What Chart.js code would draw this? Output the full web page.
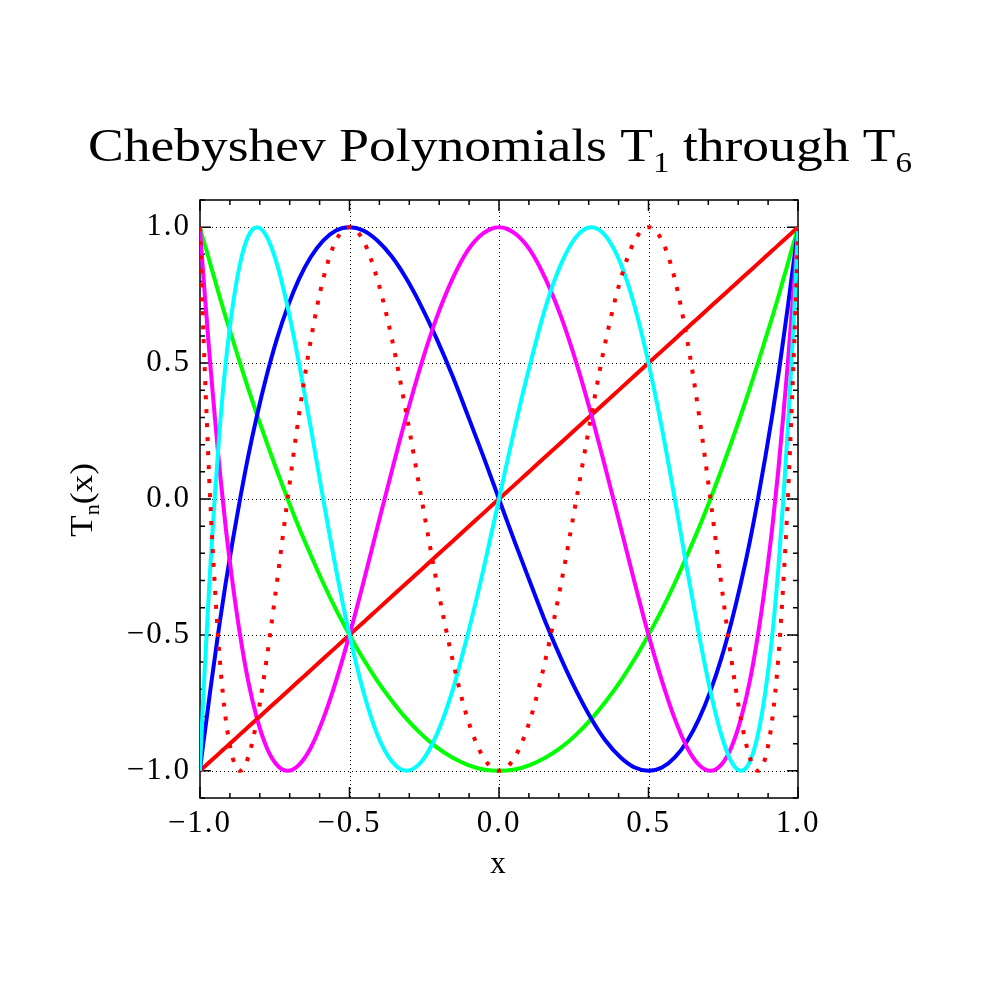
<!DOCTYPE html>
<html>
<head>
<meta charset="utf-8">
<title>Chebyshev Polynomials</title>
<script src="https://cdn.jsdelivr.net/npm/chart.js@4.4.0/dist/chart.umd.min.js"></script>
<style>
  html, body { margin: 0; padding: 0; background: #fff; }
  canvas { display: block; }
</style>
</head>
<body>
<canvas id="cheb" width="1000" height="1000"></canvas>
<script>
(function () {
  "use strict";

  // sample positions on the x axis (shared by every curve)
  const xs = [
    -1, -0.999, -0.995, -0.988, -0.978, -0.966, -0.951, -0.934, -0.914, -0.891,
    -0.866, -0.839, -0.809, -0.777, -0.743, -0.707, -0.669, -0.629, -0.588, -0.545,
    -0.5, -0.454, -0.407, -0.358, -0.309, -0.259, -0.208, -0.156, -0.105, -0.052,
    0,
    0.052, 0.105, 0.156, 0.208, 0.259, 0.309, 0.358, 0.407, 0.454, 0.5,
    0.545, 0.588, 0.629, 0.669, 0.707, 0.743, 0.777, 0.809, 0.839, 0.866,
    0.891, 0.914, 0.934, 0.951, 0.966, 0.978, 0.988, 0.995, 0.999, 1
  ];

  const t1 = [
    -1, -0.999, -0.995, -0.988, -0.978, -0.966, -0.951, -0.934, -0.914, -0.891,
    -0.866, -0.839, -0.809, -0.777, -0.743, -0.707, -0.669, -0.629, -0.588, -0.545,
    -0.5, -0.454, -0.407, -0.358, -0.309, -0.259, -0.208, -0.156, -0.105, -0.052,
    0,
    0.052, 0.105, 0.156, 0.208, 0.259, 0.309, 0.358, 0.407, 0.454, 0.5,
    0.545, 0.588, 0.629, 0.669, 0.707, 0.743, 0.777, 0.809, 0.839, 0.866,
    0.891, 0.914, 0.934, 0.951, 0.966, 0.978, 0.988, 0.995, 0.999, 1
  ];

  const t2 = [
    1, 0.995, 0.978, 0.951, 0.914, 0.866, 0.809, 0.743, 0.669, 0.588,
    0.5, 0.407, 0.309, 0.208, 0.105, 0, -0.105, -0.208, -0.309, -0.407,
    -0.5, -0.588, -0.669, -0.743, -0.809, -0.866, -0.914, -0.951, -0.978, -0.995,
    -1,
    -0.995, -0.978, -0.951, -0.914, -0.866, -0.809, -0.743, -0.669, -0.588, -0.5,
    -0.407, -0.309, -0.208, -0.105, 0, 0.105, 0.208, 0.309, 0.407, 0.5,
    0.588, 0.669, 0.743, 0.809, 0.866, 0.914, 0.951, 0.978, 0.995, 1
  ];

  const t3 = [
    -1, -0.988, -0.951, -0.891, -0.809, -0.707, -0.588, -0.454, -0.309, -0.156,
    0, 0.156, 0.309, 0.454, 0.588, 0.707, 0.809, 0.891, 0.951, 0.988,
    1, 0.988, 0.951, 0.891, 0.809, 0.707, 0.588, 0.454, 0.309, 0.156,
    0,
    -0.156, -0.309, -0.454, -0.588, -0.707, -0.809, -0.891, -0.951, -0.988, -1,
    -0.988, -0.951, -0.891, -0.809, -0.707, -0.588, -0.454, -0.309, -0.156, 0,
    0.156, 0.309, 0.454, 0.588, 0.707, 0.809, 0.891, 0.951, 0.988, 1
  ];

  const t4 = [
    1, 0.978, 0.914, 0.809, 0.669, 0.5, 0.309, 0.105, -0.105, -0.309,
    -0.5, -0.669, -0.809, -0.914, -0.978, -1, -0.978, -0.914, -0.809, -0.669,
    -0.5, -0.309, -0.105, 0.105, 0.309, 0.5, 0.669, 0.809, 0.914, 0.978,
    1,
    0.978, 0.914, 0.809, 0.669, 0.5, 0.309, 0.105, -0.105, -0.309, -0.5,
    -0.669, -0.809, -0.914, -0.978, -1, -0.978, -0.914, -0.809, -0.669, -0.5,
    -0.309, -0.105, 0.105, 0.309, 0.5, 0.669, 0.809, 0.914, 0.978, 1
  ];

  const t5 = [
    -1, -0.966, -0.866, -0.707, -0.5, -0.259, 0, 0.259, 0.5, 0.707,
    0.866, 0.966, 1, 0.966, 0.866, 0.707, 0.5, 0.259, 0, -0.259,
    -0.5, -0.707, -0.866, -0.966, -1, -0.966, -0.866, -0.707, -0.5, -0.259,
    0,
    0.259, 0.5, 0.707, 0.866, 0.966, 1, 0.966, 0.866, 0.707, 0.5,
    0.259, 0, -0.259, -0.5, -0.707, -0.866, -0.966, -1, -0.966, -0.866,
    -0.707, -0.5, -0.259, 0, 0.259, 0.5, 0.707, 0.866, 0.966, 1
  ];

  const t6 = [
    1, 0.951, 0.809, 0.588, 0.309, 0, -0.309, -0.588, -0.809, -0.951,
    -1, -0.951, -0.809, -0.588, -0.309, 0, 0.309, 0.588, 0.809, 0.951,
    1, 0.951, 0.809, 0.588, 0.309, 0, -0.309, -0.588, -0.809, -0.951,
    -1,
    -0.951, -0.809, -0.588, -0.309, 0, 0.309, 0.588, 0.809, 0.951, 1,
    0.951, 0.809, 0.588, 0.309, 0, -0.309, -0.588, -0.809, -0.951, -1,
    -0.951, -0.809, -0.588, -0.309, 0, 0.309, 0.588, 0.809, 0.951, 1
  ];

  // labelled (major) ticks
  const xMajor = [-1, -0.5, 0, 0.5, 1];
  const xMajorLabels = ["\u22121.0", "\u22120.5", "0.0", "0.5", "1.0"];
  const yMajor = [-1, -0.5, 0, 0.5, 1];
  const yMajorLabels = ["\u22121.0", "\u22120.5", "0.0", "0.5", "1.0"];

  const FONT = "'Liberation Serif', 'DejaVu Serif', serif";

  const series = [
    { label: "T1", data: t1, color: "#ff0000", dash: [] },
    { label: "T2", data: t2, color: "#00ff00", dash: [] },
    { label: "T3", data: t3, color: "#0000ff", dash: [] },
    { label: "T4", data: t4, color: "#ff00ff", dash: [] },
    { label: "T5", data: t5, color: "#00ffff", dash: [] },
    { label: "T6", data: t6, color: "#ff0000", dash: [4, 10] }
  ];

  function majorLabel(value, majors, labels) {
    const i = majors.findIndex((m) => Math.abs(m - value) < 1e-6);
    return i < 0 ? "" : labels[i];
  }

  // draws text pieces (some as subscripts) centred on the origin,
  // stretched sideways to the wanted width if one is given
  function drawPieces(ctx, pieces, size, subSize, subDrop, width) {
    let w = 0;
    pieces.forEach((p) => {
      ctx.font = (p.sub ? subSize : size) + "px " + FONT;
      p.w = ctx.measureText(p.text).width;
      w += p.w;
    });
    if (width) ctx.scale(width / w, 1);
    let x = -w / 2;
    pieces.forEach((p) => {
      ctx.font = (p.sub ? subSize : size) + "px " + FONT;
      ctx.fillText(p.text, x, p.sub ? subDrop : 0);
      x += p.w;
    });
  }

  const framePlugin = {
    id: "frame",
    beforeDraw(chart) {
      // a bit of extra tracking for the tick labels (wide plotter font)
      chart.ctx.letterSpacing = "2px";
    },
    beforeDatasetsDraw(chart) {
      const { ctx, chartArea: a, scales } = chart;
      ctx.save();
      ctx.strokeStyle = "#000";

      // dotted grid at the labelled ticks
      ctx.lineWidth = 1;
      ctx.setLineDash([1, 3]);
      ctx.beginPath();
      scales.x.ticks.forEach((t) => {
        if (t.label === "" || Math.abs(t.value) > 0.999) return;
        const p = Math.round(scales.x.getPixelForValue(t.value)) + 0.5;
        ctx.moveTo(p, a.top);
        ctx.lineTo(p, a.bottom);
      });
      scales.y.ticks.forEach((t) => {
        if (t.label === "") return;
        const p = Math.round(scales.y.getPixelForValue(t.value)) + 0.5;
        ctx.moveTo(a.left, p);
        ctx.lineTo(a.right, p);
      });
      ctx.stroke();
      ctx.setLineDash([]);

      // inward ticks on all four sides
      ctx.lineWidth = 1.5;
      ctx.beginPath();
      scales.x.ticks.forEach((t) => {
        const len = t.label === "" ? 5 : 11;
        const p = scales.x.getPixelForValue(t.value);
        ctx.moveTo(p, a.bottom);
        ctx.lineTo(p, a.bottom - len);
        ctx.moveTo(p, a.top);
        ctx.lineTo(p, a.top + len);
      });
      scales.y.ticks.forEach((t) => {
        const len = t.label === "" ? 5 : 11;
        const p = scales.y.getPixelForValue(t.value);
        ctx.moveTo(a.left, p);
        ctx.lineTo(a.left + len, p);
        ctx.moveTo(a.right, p);
        ctx.lineTo(a.right - len, p);
      });
      ctx.stroke();

      ctx.strokeRect(a.left, a.top, a.right - a.left, a.bottom - a.top);
      ctx.restore();
    },
    afterDraw(chart) {
      const { ctx } = chart;
      ctx.letterSpacing = "0px";
      ctx.save();
      ctx.fillStyle = "#000";
      ctx.textAlign = "left";
      ctx.textBaseline = "alphabetic";

      // title
      ctx.translate(500, 161);
      drawPieces(ctx, [
        { text: "Chebyshev Polynomials T" },
        { text: "1", sub: true },
        { text: " through T" },
        { text: "6", sub: true }
      ], 47, 29, 11, 824);
      ctx.restore();

      // y axis title, rotated
      ctx.save();
      ctx.fillStyle = "#000";
      ctx.textAlign = "left";
      ctx.textBaseline = "alphabetic";
      ctx.translate(92, 500);
      ctx.rotate(-Math.PI / 2);
      drawPieces(ctx, [
        { text: "T" },
        { text: "n", sub: true },
        { text: "(x)" }
      ], 32, 20, 7, 74);
      ctx.restore();
    }
  };

  const ctx = document.getElementById("cheb");

  new Chart(ctx, {
    type: "line",
    data: {
      datasets: series.map((s, i) => ({
        label: s.label,
        data: xs.map((x, k) => ({ x: x, y: s.data[k] })),
        borderColor: s.color,
        borderWidth: 4,
        borderDash: s.dash,
        borderCapStyle: "butt",
        pointRadius: 0,
        fill: false,
        cubicInterpolationMode: "monotone",
        order: series.length - i
      }))
    },
    options: {
      responsive: false,
      devicePixelRatio: 1,
      animation: false,
      layout: { padding: { top: 200, right: 202, left: 0, bottom: 0 } },
      plugins: {
        legend: { display: false },
        tooltip: { enabled: false },
        title: { display: false }
      },
      scales: {
        x: {
          type: "linear",
          min: -1,
          max: 1,
          grid: { display: false, drawTicks: false },
          border: { display: false },
          ticks: {
            stepSize: 0.1,
            autoSkip: false,
            maxRotation: 0,
            padding: 7,
            color: "#000",
            font: { family: FONT, size: 31 },
            callback: (v) => majorLabel(v, xMajor, xMajorLabels)
          },
          title: {
            display: true,
            text: "x",
            color: "#000",
            font: { family: FONT, size: 31 },
            padding: { top: 0, bottom: 117 }
          },
          afterFit: (scale) => { scale.height = 202; }
        },
        y: {
          type: "linear",
          min: -1.1,
          max: 1.1,
          grid: { display: false, drawTicks: false },
          border: { display: false },
          ticks: {
            stepSize: 0.1,
            autoSkip: false,
            padding: 9,
            color: "#000",
            font: { family: FONT, size: 31 },
            callback: (v) => majorLabel(v, yMajor, yMajorLabels)
          },
          afterFit: (scale) => { scale.width = 200; }
        }
      }
    },
    plugins: [framePlugin]
  });
})();
</script>
</body>
</html>
